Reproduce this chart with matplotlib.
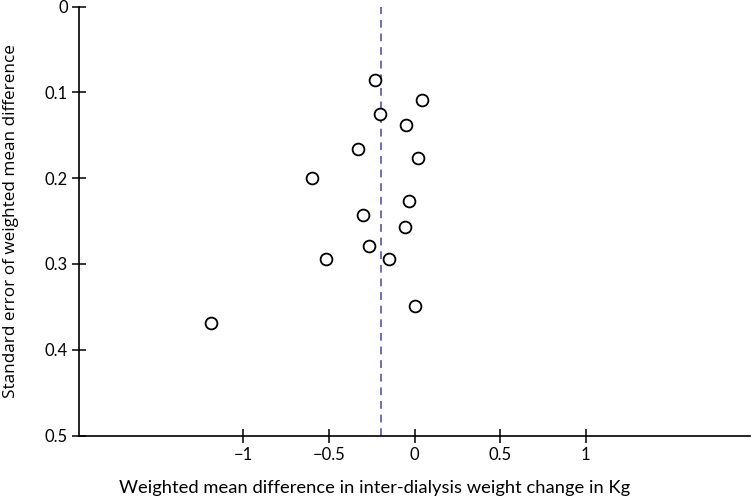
import matplotlib
matplotlib.use("Agg")
import matplotlib.pyplot as plt

# study effect sizes (weighted mean difference, kg) and their standard errors
wmd = [-0.23, 0.041, -0.202, -0.047, -0.331, 0.02, -0.60,
       -0.031, -0.302, -0.054, -0.267, -0.515, -0.152, 0.002, -1.19]
se = [0.086, 0.109, 0.125, 0.138, 0.166, 0.176, 0.1995,
      0.227, 0.243, 0.257, 0.279, 0.294, 0.294, 0.349, 0.369]
pooled = -0.195

xticks = [-1, -0.5, 0, 0.5, 1]
xtick_labels = ["\u22121", "\u22120.5", "0", "0.5", "1"]
yticks = [0, 0.1, 0.2, 0.3, 0.4, 0.5]
ytick_labels = ["0", "0.1", "0.2", "0.3", "0.4", "0.5"]

fig = plt.figure(figsize=(7.53, 5.0), dpi=100)
ax = fig.add_axes([0.105, 0.129, 0.891, 0.858])

ax.plot(wmd, se, linestyle="none", marker="o", markersize=8.5,
        markerfacecolor="white", markeredgecolor="black", markeredgewidth=1.3,
        zorder=3)
ax.axvline(pooled, color="#6b6fb8", linestyle=(0, (4, 3)), linewidth=1.4, zorder=2)

ax.set_xlim(-1.96, 1.96)
ax.set_ylim(0.5, 0)

ax.spines["top"].set_visible(False)
ax.spines["right"].set_visible(False)
for s in ("left", "bottom"):
    ax.spines[s].set_linewidth(1.2)

ax.set_xticks(xticks)
ax.set_xticklabels(xtick_labels, fontfamily="Lato", fontsize=12)
ax.set_yticks(yticks)
ax.set_yticklabels(ytick_labels, fontfamily="Lato", fontsize=12)
ax.tick_params(direction="inout", length=10, width=1.1, pad=3)

ax.set_xlabel("Weighted mean difference in inter-dialysis weight change in Kg",
              fontfamily="Lato", fontsize=13.2)
ax.xaxis.set_label_coords(0.441, -0.103)
ax.set_ylabel("Standard error of weighted mean difference",
              fontfamily="Open Sans", fontsize=12.3)
ax.yaxis.set_label_coords(-0.09, 0.5)

fig.savefig("out.png", dpi=100)
